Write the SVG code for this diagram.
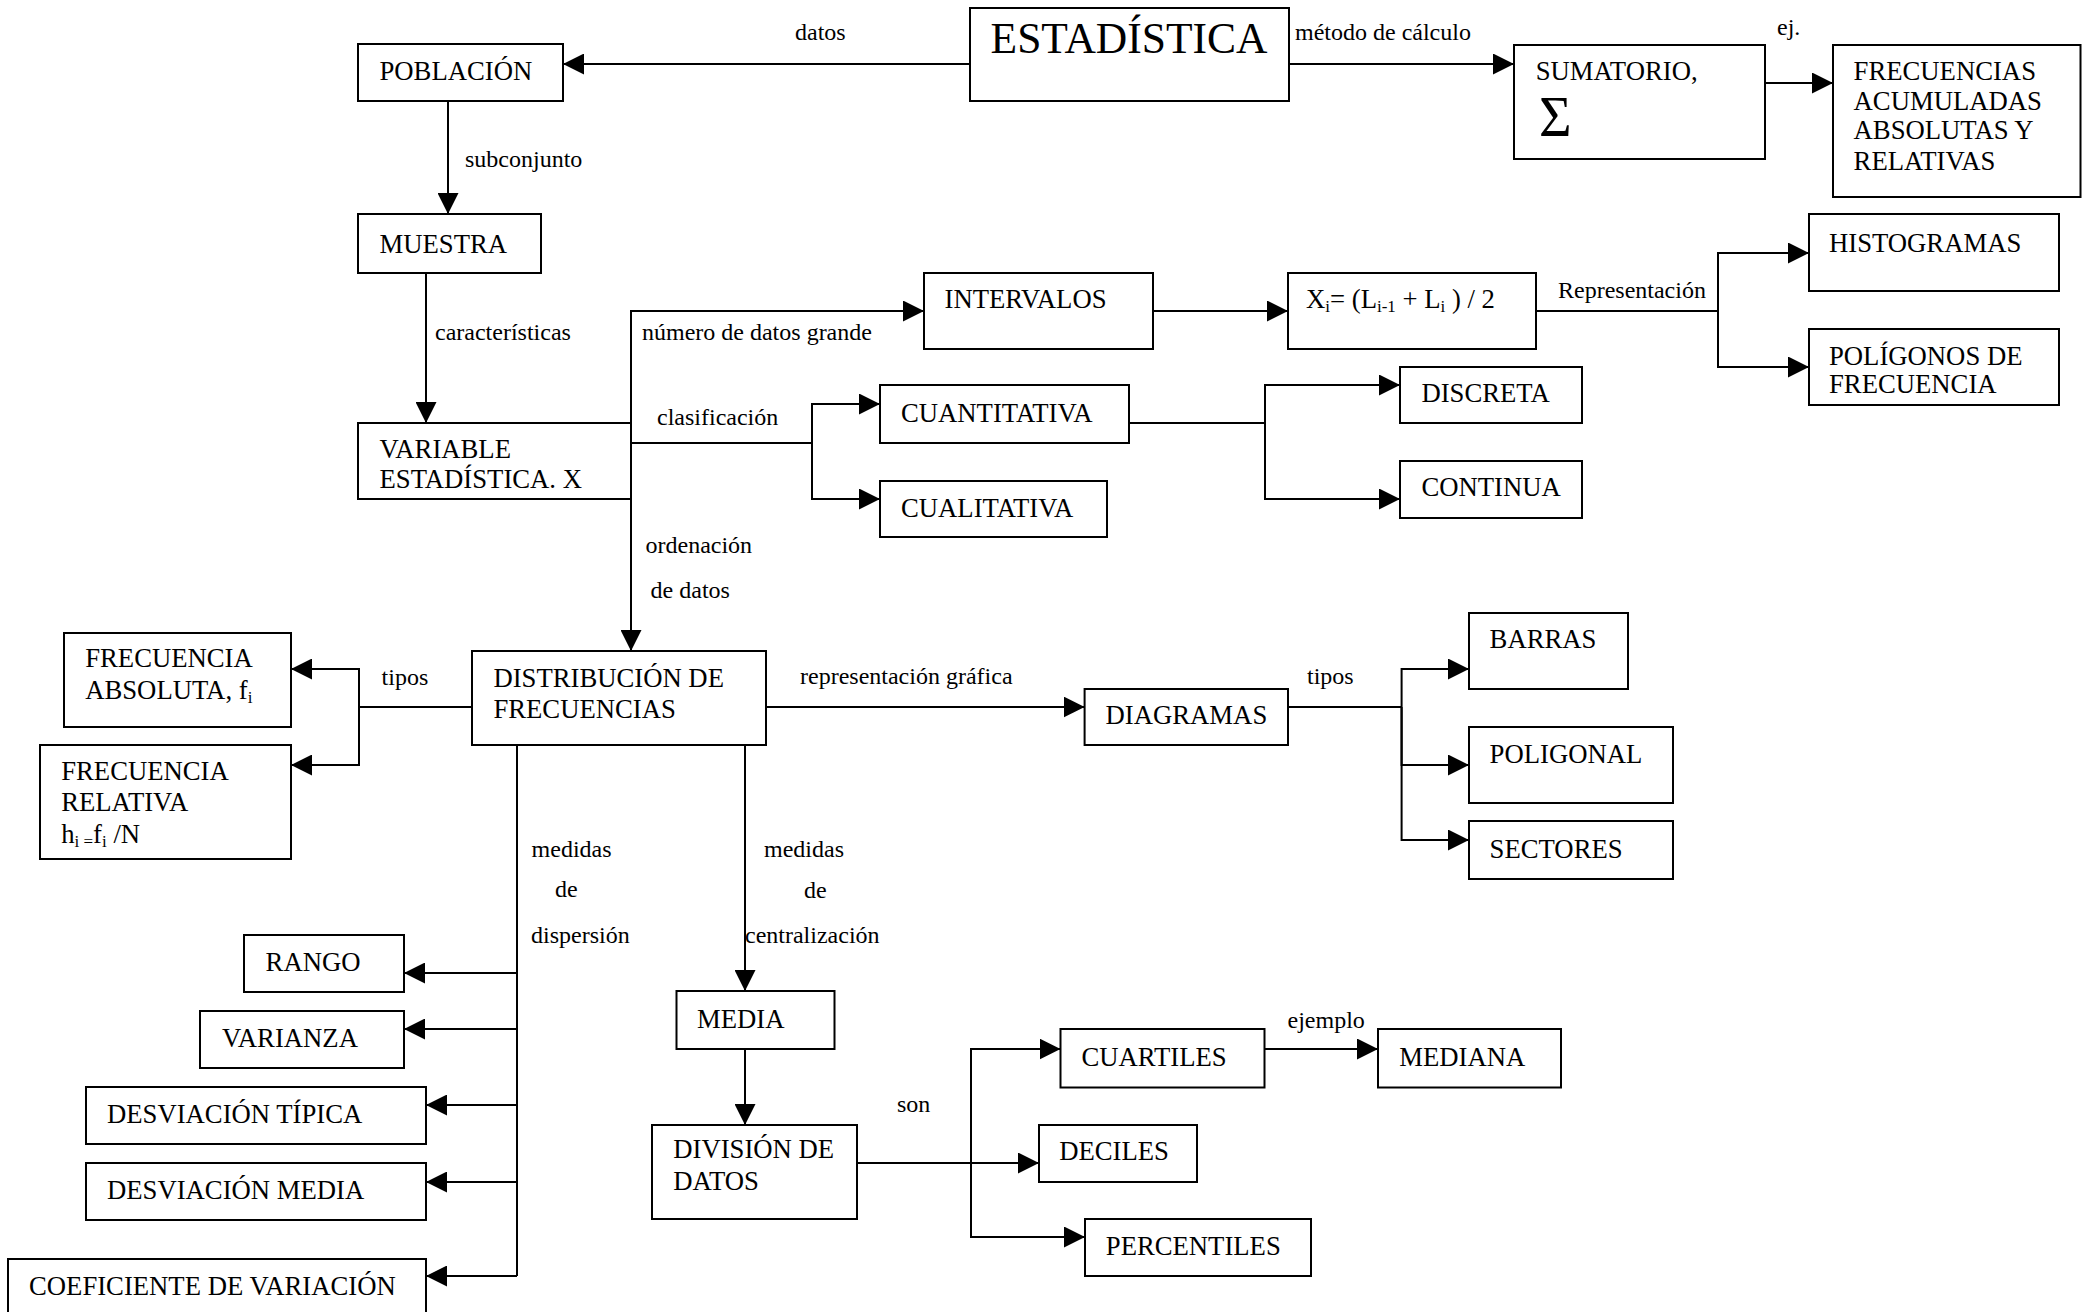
<svg xmlns="http://www.w3.org/2000/svg" width="2100" height="1312" viewBox="0 0 2100 1312">
  <style>
    .box { fill: #fff; stroke: #000; stroke-width: 2; }
    .t { font-family: "Liberation Serif", "Times New Roman", serif; font-size: 26.7px; fill: #000; }
    .l { font-family: "Liberation Serif", "Times New Roman", serif; font-size: 24px; fill: #000; }
    .sub { font-size: 17px; }
    .c { fill: none; stroke: #000; stroke-width: 2; }
    .a { fill: none; stroke: #000; stroke-width: 2; marker-end: url(#arrow); }
  </style>
  <defs>
    <marker id="arrow" markerUnits="userSpaceOnUse" markerWidth="21" markerHeight="21" viewBox="0 0 21 21" refX="21" refY="10.5" orient="auto">
      <path d="M0,0 L21,10.5 L0,21 z" fill="#000"/>
    </marker>
  </defs>
  <rect width="2100" height="1312" fill="#fff"/>

  <!-- connectors -->
  <g id="connectors">
    <path class="a" d="M970,64 H563"/>
    <path class="a" d="M1289,64 H1514"/>
    <path class="a" d="M1765,83 H1833"/>
    <path class="a" d="M448,101 V214"/>
    <path class="a" d="M426,273 V423"/>
    <path class="a" d="M631,423 V311 H924"/>
    <path class="a" d="M631,499 V651"/>
    <path class="c" d="M631,443 H812"/>
    <path class="a" d="M812,443 V404 H880"/>
    <path class="a" d="M812,443 V499 H880"/>
    <path class="a" d="M1153,311 H1288"/>
    <path class="c" d="M1536,311 H1718"/>
    <path class="a" d="M1718,311 V253 H1809"/>
    <path class="a" d="M1718,311 V367 H1809"/>
    <path class="c" d="M1129,423 H1265"/>
    <path class="a" d="M1265,423 V385 H1400"/>
    <path class="a" d="M1265,423 V499 H1400"/>
    <path class="c" d="M472,707 H359"/>
    <path class="a" d="M359,707 V669 H291"/>
    <path class="a" d="M359,707 V765 H291"/>
    <path class="a" d="M766,707 H1084.6"/>
    <path class="c" d="M1288,707 H1401.6"/>
    <path class="a" d="M1401.6,707 V669 H1469"/>
    <path class="a" d="M1401.6,707 V765 H1469"/>
    <path class="a" d="M1401.6,707 V840 H1469"/>
    <path class="c" d="M517,745 V1276"/>
    <path class="a" d="M517,973 H404"/>
    <path class="a" d="M517,1029 H404"/>
    <path class="a" d="M517,1105 H426"/>
    <path class="a" d="M517,1182 H426"/>
    <path class="a" d="M517,1276 H426"/>
    <path class="a" d="M745,745 V991"/>
    <path class="a" d="M745,1049 V1125"/>
    <path class="a" d="M857,1163 H1039"/>
    <path class="a" d="M971,1163 V1049 H1060.5"/>
    <path class="a" d="M971,1163 V1237 H1085"/>
    <path class="a" d="M1264.6,1049 H1378"/>
  </g>

  <!-- connector labels -->
  <g id="labels">
    <text class="l" x="795" y="40">datos</text>
    <text class="l" x="1295" y="40">método de cálculo</text>
    <text class="l" x="1777" y="35">ej.</text>
    <text class="l" x="465" y="167">subconjunto</text>
    <text class="l" x="435" y="340">características</text>
    <text class="l" x="642" y="340">número de datos grande</text>
    <text class="l" x="657" y="425">clasificación</text>
    <text class="l" x="645.5" y="553">ordenación</text>
    <text class="l" x="650.6" y="598">de datos</text>
    <text class="l" x="1558" y="298">Representación</text>
    <text class="l" x="381.6" y="685">tipos</text>
    <text class="l" x="800" y="684">representación gráfica</text>
    <text class="l" x="1307" y="684">tipos</text>
    <text class="l" x="531.6" y="857">medidas</text>
    <text class="l" x="555" y="897">de</text>
    <text class="l" x="531" y="943">dispersión</text>
    <text class="l" x="764" y="857">medidas</text>
    <text class="l" x="804" y="898">de</text>
    <text class="l" x="745" y="943">centralización</text>
    <text class="l" x="897" y="1112">son</text>
    <text class="l" x="1287.5" y="1028">ejemplo</text>
  </g>

  <!-- nodes -->
  <g id="estadistica">
    <rect class="box" x="970" y="8" width="319" height="93"/>
    <text class="t" x="990.6" y="53" style="font-size:43.5px">ESTADÍSTICA</text>
  </g>
  <g id="poblacion">
    <rect class="box" x="358" y="44" width="205" height="57"/>
    <text class="t" x="379.5" y="80">POBLACIÓN</text>
  </g>
  <g id="sumatorio">
    <rect class="box" x="1514" y="45" width="251" height="114"/>
    <text class="t" x="1535.7" y="80">SUMATORIO,</text>
    <text class="t" x="1539" y="136" style="font-size:56px">Σ</text>
  </g>
  <g id="frecuencias-acumuladas">
    <rect class="box" x="1833" y="45" width="247.5" height="152"/>
    <text class="t" x="1853.6" y="80">FRECUENCIAS</text>
    <text class="t" x="1853.6" y="110">ACUMULADAS</text>
    <text class="t" x="1853.6" y="139">ABSOLUTAS Y</text>
    <text class="t" x="1853.6" y="170">RELATIVAS</text>
  </g>
  <g id="muestra">
    <rect class="box" x="358" y="214" width="183" height="59"/>
    <text class="t" x="379.5" y="253">MUESTRA</text>
  </g>
  <g id="intervalos">
    <rect class="box" x="924" y="273" width="229" height="76"/>
    <text class="t" x="944.6" y="308">INTERVALOS</text>
  </g>
  <g id="marca-clase">
    <rect class="box" x="1288" y="273" width="248" height="76"/>
    <text class="t" x="1306" y="308">X<tspan class="sub" dy="4">i</tspan><tspan dy="-4">= (L</tspan><tspan class="sub" dy="4">i-1</tspan><tspan dy="-4"> + L</tspan><tspan class="sub" dy="4">i</tspan><tspan dy="-4"> ) / 2</tspan></text>
  </g>
  <g id="histogramas">
    <rect class="box" x="1809" y="214" width="250" height="77"/>
    <text class="t" x="1829" y="252">HISTOGRAMAS</text>
  </g>
  <g id="poligonos">
    <rect class="box" x="1809" y="329" width="250" height="76"/>
    <text class="t" x="1829" y="365">POLÍGONOS DE</text>
    <text class="t" x="1829" y="393">FRECUENCIA</text>
  </g>
  <g id="variable">
    <rect class="box" x="358" y="423" width="273" height="76"/>
    <text class="t" x="379.5" y="458">VARIABLE</text>
    <text class="t" x="379.5" y="488">ESTADÍSTICA. X</text>
  </g>
  <g id="cuantitativa">
    <rect class="box" x="880" y="385" width="249" height="58"/>
    <text class="t" x="901" y="422">CUANTITATIVA</text>
  </g>
  <g id="cualitativa">
    <rect class="box" x="880" y="481" width="227" height="56"/>
    <text class="t" x="901" y="517">CUALITATIVA</text>
  </g>
  <g id="discreta">
    <rect class="box" x="1400" y="367" width="182" height="56"/>
    <text class="t" x="1421.4" y="402">DISCRETA</text>
  </g>
  <g id="continua">
    <rect class="box" x="1400" y="461" width="182" height="57"/>
    <text class="t" x="1421.4" y="496">CONTINUA</text>
  </g>
  <g id="frecuencia-absoluta">
    <rect class="box" x="64" y="633" width="227" height="94"/>
    <text class="t" x="85.2" y="667">FRECUENCIA</text>
    <text class="t" x="85.2" y="699">ABSOLUTA, f<tspan class="sub" dy="4">i</tspan></text>
  </g>
  <g id="frecuencia-relativa">
    <rect class="box" x="40" y="745" width="251" height="114"/>
    <text class="t" x="61.2" y="780">FRECUENCIA</text>
    <text class="t" x="61.2" y="811">RELATIVA</text>
    <text class="t" x="61.2" y="843">h<tspan class="sub" dy="4">i =</tspan><tspan dy="-4">f</tspan><tspan class="sub" dy="4">i</tspan><tspan dy="-4"> /N</tspan></text>
  </g>
  <g id="distribucion">
    <rect class="box" x="472" y="651" width="294" height="94"/>
    <text class="t" x="493.4" y="687">DISTRIBUCIÓN DE</text>
    <text class="t" x="493.4" y="718">FRECUENCIAS</text>
  </g>
  <g id="diagramas">
    <rect class="box" x="1084.6" y="689" width="203.4" height="56"/>
    <text class="t" x="1105.6" y="724">DIAGRAMAS</text>
  </g>
  <g id="barras">
    <rect class="box" x="1469" y="613" width="159" height="76"/>
    <text class="t" x="1489.6" y="648">BARRAS</text>
  </g>
  <g id="poligonal">
    <rect class="box" x="1469" y="727" width="204" height="76"/>
    <text class="t" x="1489.6" y="763">POLIGONAL</text>
  </g>
  <g id="sectores">
    <rect class="box" x="1469" y="821" width="204" height="58"/>
    <text class="t" x="1489.6" y="858">SECTORES</text>
  </g>
  <g id="rango">
    <rect class="box" x="244" y="935" width="160" height="57"/>
    <text class="t" x="265.6" y="971">RANGO</text>
  </g>
  <g id="varianza">
    <rect class="box" x="200" y="1011" width="204" height="57"/>
    <text class="t" x="222" y="1047">VARIANZA</text>
  </g>
  <g id="desviacion-tipica">
    <rect class="box" x="86" y="1087" width="340" height="57"/>
    <text class="t" x="107" y="1123">DESVIACIÓN TÍPICA</text>
  </g>
  <g id="desviacion-media">
    <rect class="box" x="86" y="1163" width="340" height="57"/>
    <text class="t" x="107" y="1199">DESVIACIÓN MEDIA</text>
  </g>
  <g id="coeficiente-variacion">
    <rect class="box" x="8" y="1259" width="418" height="70"/>
    <text class="t" x="29" y="1295">COEFICIENTE DE VARIACIÓN</text>
  </g>
  <g id="media">
    <rect class="box" x="676.5" y="991" width="158" height="58"/>
    <text class="t" x="697" y="1028">MEDIA</text>
  </g>
  <g id="division-datos">
    <rect class="box" x="652" y="1125" width="205" height="94"/>
    <text class="t" x="673.3" y="1158">DIVISIÓN DE</text>
    <text class="t" x="673.3" y="1190">DATOS</text>
  </g>
  <g id="cuartiles">
    <rect class="box" x="1060.5" y="1029" width="204" height="58.5"/>
    <text class="t" x="1081.5" y="1066">CUARTILES</text>
  </g>
  <g id="mediana">
    <rect class="box" x="1378" y="1029" width="183" height="58.5"/>
    <text class="t" x="1399.2" y="1066">MEDIANA</text>
  </g>
  <g id="deciles">
    <rect class="box" x="1039" y="1125" width="158" height="57"/>
    <text class="t" x="1059.2" y="1160">DECILES</text>
  </g>
  <g id="percentiles">
    <rect class="box" x="1085" y="1219" width="226" height="57"/>
    <text class="t" x="1105.8" y="1255">PERCENTILES</text>
  </g>
</svg>
